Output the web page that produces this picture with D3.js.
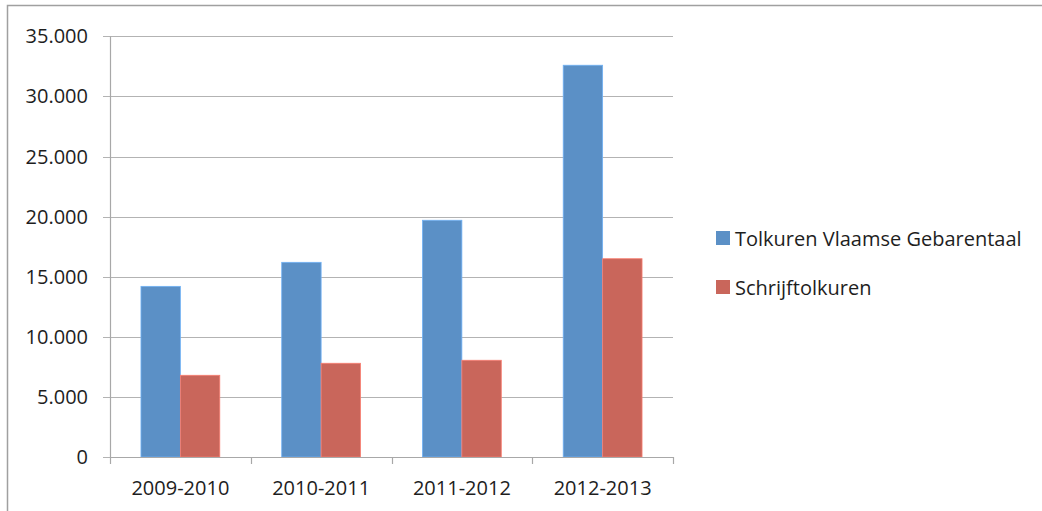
<!DOCTYPE html>
<html>
<head>
<meta charset="utf-8">
<script src="https://cdn.jsdelivr.net/npm/d3@7"></script>
<style>
  html, body { margin: 0; padding: 0; background: #fff; }
  svg { display: block; font-family: "Open Sans", "DejaVu Sans", sans-serif; }
  .lbl { fill: #1e1e1e; }
</style>
</head>
<body>
<div id="chart"></div>
<script>
// data
const years = ["2009-2010", "2010-2011", "2011-2012", "2012-2013"];
const seriesNames = ["Tolkuren Vlaamse Gebarentaal", "Schrijftolkuren"];
const gebarentaal = [14200, 16200, 19700, 32600];
const schrijftolk = [6800, 7800, 8050, 16500];
const yTicks = [0, 5000, 10000, 15000, 20000, 25000, 30000, 35000];
const colors = ["#5b90c6", "#c9665b"];

const W = 1042, H = 511;
const plot = { left: 110, right: 673, top: 36.4, bottom: 457 };

const svg = d3.select("#chart").append("svg")
  .attr("width", W).attr("height", H);

// outer frame (only top and left edges show in the picture)
svg.append("path")
  .attr("d", `M7.5,${H} V5.5 H${W}`)
  .attr("fill", "none").attr("stroke", "#a0a0a0").attr("stroke-width", 1.5);

const x0 = d3.scaleBand().domain(years)
  .range([plot.left, plot.right]).paddingInner(0.44).paddingOuter(0.22);
const x1 = d3.scaleBand().domain(seriesNames).range([0, x0.bandwidth()]);
const y = d3.scaleLinear().domain([0, 35000]).range([plot.bottom, plot.top]);

const fmt = d => d === 0 ? "0" : d3.format(",")(d).replace(/,/g, ".");

// gridlines
svg.append("g").selectAll("line").data(yTicks).join("line")
  .attr("x1", plot.left - 7).attr("x2", plot.right)
  .attr("y1", d => Math.round(y(d)) + 0.5).attr("y2", d => Math.round(y(d)) + 0.5)
  .attr("stroke", "#b3b3b3").attr("stroke-width", 1.2);

// y labels
svg.append("g").selectAll("text").data(yTicks).join("text")
  .attr("class", "lbl")
  .attr("x", 88).attr("y", d => y(d))
  .attr("dy", "0.35em").attr("text-anchor", "end")
  .attr("font-size", 20)
  .text(fmt);

// bars
const rows = years.map((yr, i) => ({ year: yr, vals: [gebarentaal[i], schrijftolk[i]] }));
svg.append("g").selectAll("g").data(rows).join("g")
  .attr("transform", d => `translate(${x0(d.year)},0)`)
  .selectAll("rect").data(d => d.vals.map((v, k) => ({ k, v }))).join("rect")
  .attr("x", d => x1(seriesNames[d.k]))
  .attr("width", x1.bandwidth())
  .attr("y", d => y(d.v))
  .attr("height", d => y(0) - y(d.v))
  .attr("fill", d => colors[d.k])
  .attr("stroke", d => d3.color(colors[d.k]).brighter(0.6))
  .attr("stroke-width", 0.8);

// axes lines
svg.append("line")
  .attr("x1", plot.left + 0.5).attr("x2", plot.left + 0.5)
  .attr("y1", plot.top).attr("y2", plot.bottom)
  .attr("stroke", "#a8a8a8").attr("stroke-width", 1.2);
const catTicks = d3.range(years.length + 1).map(i => plot.left + i * x0.step());
svg.append("line")
  .attr("x1", plot.left).attr("x2", plot.right)
  .attr("y1", Math.round(y(0)) + 0.5).attr("y2", Math.round(y(0)) + 0.5)
  .attr("stroke", "#a8a8a8").attr("stroke-width", 1.2);
svg.append("g").selectAll("line").data(catTicks).join("line")
  .attr("x1", d => Math.round(d) + 0.5).attr("x2", d => Math.round(d) + 0.5)
  .attr("y1", plot.bottom).attr("y2", plot.bottom + 7)
  .attr("stroke", "#a8a8a8").attr("stroke-width", 1.2);

// category labels
svg.append("g").selectAll("text").data(years).join("text")
  .attr("class", "lbl")
  .attr("x", d => x0(d) + x0.bandwidth() / 2).attr("y", 495)
  .attr("text-anchor", "middle").attr("font-size", 20)
  .text(d => d);

// legend
const leg = svg.append("g").selectAll("g").data(seriesNames).join("g")
  .attr("transform", (d, i) => `translate(716,${231 + i * 49})`);
leg.append("rect").attr("width", 14).attr("height", 14)
  .attr("fill", (d, i) => colors[i]);
leg.append("text").attr("class", "lbl")
  .attr("x", 19).attr("y", 15).attr("font-size", 20)
  .text(d => d);
</script>
</body>
</html>
